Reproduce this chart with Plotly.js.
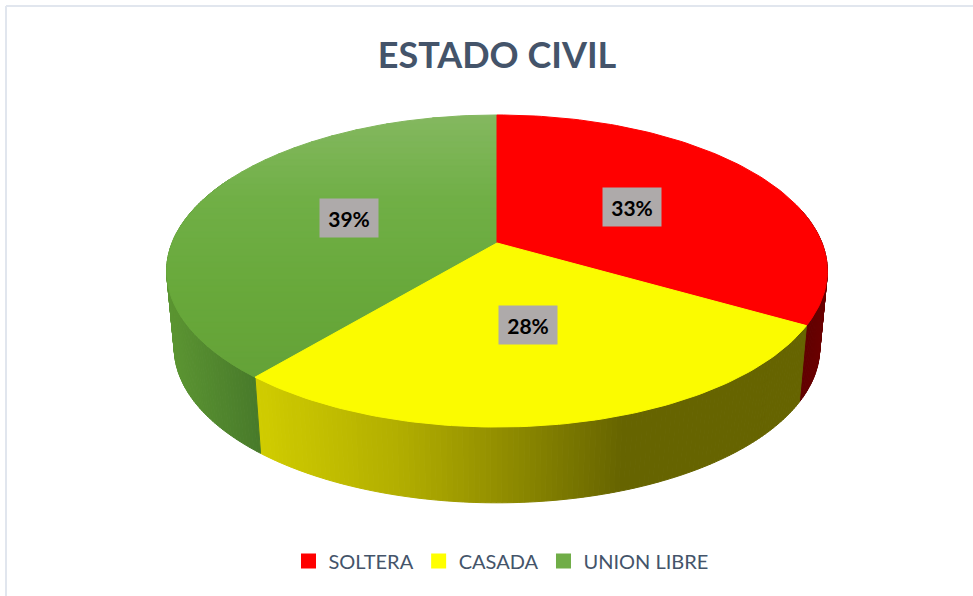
<!DOCTYPE html>
<html>
<head>
<meta charset="utf-8">
<script src="https://cdn.plot.ly/plotly-3.0.1.min.js"></script>
<style>html,body{margin:0;padding:0;background:#fff}#chart{width:973px;height:596px}</style>
</head>
<body>
<div id="chart"></div>
<script>
const categories = ['SOLTERA', 'CASADA', 'UNION LIBRE'];
const percents = [33.3, 27.8, 38.9];
const legendColors = ['#FF0000', '#FFFF00', '#70AD47'];
const chartTitle = 'ESTADO CIVIL';

// view geometry of the tilted disc
const W = 973, H = 596, cx = 497, persp = 0.1795;
const topFace = {A: 325, B: 151, cy: 243};
const baseFace = {A: 317.5, B: 150, cy: 320};

function project(face, theta, r) {
  const px = r * Math.sin(theta), py = r * Math.cos(theta), d = 1 + persp * py;
  return [cx + face.A * px / d, face.cy - face.B * py / d];
}
function lerpStops(stops, v) {
  if (v <= stops[0][0]) return stops[0][1];
  for (let i = 1; i < stops.length; i++) {
    if (v <= stops[i][0]) {
      const t = (v - stops[i-1][0]) / (stops[i][0] - stops[i-1][0]);
      return stops[i-1][1].map((c, k) => c + t * (stops[i][1][k] - c));
    }
  }
  return stops[stops.length-1][1];
}
const rgb = c => 'rgb(' + c.map(Math.round).join(',') + ')';

function poly(pts, color) {
  return {
    type: 'scatter', mode: 'lines', x: pts.map(p => p[0]), y: pts.map(p => p[1]),
    fill: 'toself', fillcolor: color, line: {color: color, width: 1},
    hoverinfo: 'skip', showlegend: false
  };
}
function clipY(pts, limit, keepBelow) {
  const inside = p => keepBelow ? p[1] >= limit : p[1] <= limit;
  const out = [];
  for (let i = 0; i < pts.length; i++) {
    const a = pts[i], b = pts[(i + 1) % pts.length];
    if (inside(a)) out.push(a);
    if (inside(a) !== inside(b)) {
      const t = (limit - a[1]) / (b[1] - a[1]);
      out.push([a[0] + t * (b[0] - a[0]), limit]);
    }
  }
  return out;
}

// slice angles, clockwise from twelve o'clock
const total = percents.reduce((a, b) => a + b, 0);
const starts = [], ends = [];
percents.reduce((acc, v, i) => { starts[i] = acc; ends[i] = acc + v / total * 2 * Math.PI; return ends[i]; }, 0);

const wallStops = [
  [[790, [92, 0, 0]], [830, [112, 0, 0]]],
  [[263, [208, 204, 0]], [400, [178, 174, 0]], [500, [146, 142, 0]], [620, [102, 100, 0]], [810, [102, 100, 0]]],
  [[170, [92, 150, 50]], [262, [72, 122, 42]]]
];
const wallRange = [
  [ends[0] - 0.75, ends[0]],
  [starts[1], ends[1]],
  [starts[2], starts[2] + 1.35]
];
const traces = [];
wallRange.forEach((rng, s) => {
  const n = Math.max(4, Math.ceil((rng[1] - rng[0]) * 70));
  for (let i = 0; i < n; i++) {
    const a = rng[0] + (rng[1] - rng[0]) * i / n, b = rng[0] + (rng[1] - rng[0]) * (i + 1) / n;
    const p1 = project(topFace, a, 1), p2 = project(topFace, b, 1);
    const q2 = project(baseFace, b, 1), q1 = project(baseFace, a, 1);
    traces.push(poly([p1, p2, q2, q1, p1], rgb(lerpStops(wallStops[s], (q1[0] + q2[0]) / 2))));
  }
});

function wedge(s) {
  const pts = [project(topFace, 0, 0)], n = 90;
  for (let i = 0; i <= n; i++) pts.push(project(topFace, starts[s] + (ends[s] - starts[s]) * i / n, 1));
  return pts;
}
// green top: vertical shading in thin bands
const greenStops = [[115, [132, 184, 96]], [200, [112, 175, 70]], [300, [104, 168, 58]], [380, [100, 162, 56]]];
const bandH = 6;
for (let y = 112; y < 385; y += bandH) {
  const part = clipY(clipY(wedge(2), y, true), y + bandH, false);
  if (part.length > 2) traces.push(poly(part.concat([part[0]]), rgb(lerpStops(greenStops, y + bandH / 2))));
}
const redW = wedge(0), yellowW = wedge(1);
traces.push(poly(redW.concat([redW[0]]), '#FF0000'));
traces.push(poly(yellowW.concat([yellowW[0]]), '#FBFB00'));

// legend entries
categories.forEach((name, i) => traces.push({
  type: 'scatter', mode: 'markers', x: [-100], y: [-100], name: name,
  marker: {symbol: 'square', size: 15, color: legendColors[i]}, hoverinfo: 'skip'
}));

const annotations = percents.map((v, i) => {
  const mid = (starts[i] + ends[i]) / 2, p = project(topFace, mid, 0.5);
  return {
    x: p[0], y: p[1], xref: 'x', yref: 'y', text: '<b>' + Math.round(v) + '%</b>', showarrow: false,
    bgcolor: '#AEAAAA', width: 58, height: 38, borderpad: 0, align: 'center', valign: 'middle',
    font: {family: 'Lato, sans-serif', size: 21, color: '#000000'}
  };
});

const layout = {
  width: W, height: H,
  margin: {l: 0, r: 0, t: 0, b: 0},
  paper_bgcolor: '#FFFFFF', plot_bgcolor: '#FFFFFF',
  title: {
    text: '<b>' + chartTitle + '</b>', x: 497 / W, xref: 'paper', xanchor: 'center',
    y: 1 - 55 / H, yref: 'container', yanchor: 'middle',
    font: {family: 'Lato, sans-serif', size: 36, color: '#44546A'}
  },
  xaxis: {range: [0, W], visible: false, fixedrange: true},
  yaxis: {range: [H, 0], visible: false, fixedrange: true},
  showlegend: true,
  legend: {
    orientation: 'h', x: 501 / W, xanchor: 'center', y: 1 - 561 / H, yanchor: 'middle',
    font: {family: 'Lato, sans-serif', size: 20, color: '#44546A'}, itemwidth: 30
  },
  annotations: annotations,
  shapes: [
    {type: 'line', xref: 'paper', yref: 'paper', x0: 6 / W, x1: 1, y0: 1 - 6 / H, y1: 1 - 6 / H, line: {color: '#E1E6EE', width: 2}},
    {type: 'line', xref: 'paper', yref: 'paper', x0: 6 / W, x1: 6 / W, y0: 0, y1: 1 - 6 / H, line: {color: '#E1E6EE', width: 2}}
  ]
};
Plotly.newPlot('chart', traces, layout, {displayModeBar: false, staticPlot: true});
</script>
</body>
</html>
